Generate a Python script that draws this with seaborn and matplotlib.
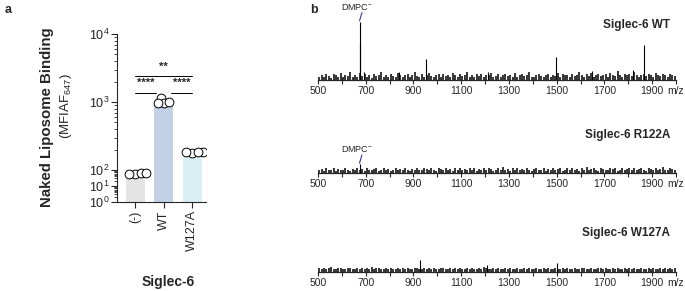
import numpy as np
import pandas as pd
import matplotlib
matplotlib.use("Agg")
import matplotlib.pyplot as plt
from matplotlib.ticker import FixedLocator, FixedFormatter
import seaborn as sns

# Panel a: liposome binding (segmented log axis)
groups = ["(-)", "WT", "W127A"]
bar_means = [42, 900, 168]
replicates = {
    "(-)": [58, 62, 64, 60],
    "WT": [1150, 960, 975, 990],
    "W127A": [180, 186, 182, 184],
}
bar_colors = ["#e4e4e4", "#bcd0ea", "#d4f2f9"]

# Panel b: ESI-MS spectra, relative intensity (WT DMPC peak = 100)
noise_mz = np.arange(505, 2000, 10)
wt_noise = [
    6, 9, 5, 11, 7, 4, 10, 8, 6, 12, 5, 9, 7, 13, 6,
    8, 5, 12, 7, 10, 6, 9, 4, 11, 7, 8, 14, 6, 9, 5,
    10, 7, 6, 12, 8, 5, 9, 11, 6, 8, 13, 7, 5, 10, 6,
    9, 12, 7, 5, 8, 11, 6, 10, 7, 9, 5, 12, 8, 6, 10,
    7, 9, 13, 6, 8, 5, 11, 7, 10, 6, 9, 8, 12, 5, 7,
    10, 6, 8, 11, 7, 9, 5, 12, 6, 8, 10, 7, 9, 13, 6,
    5, 8, 10, 7, 6, 9, 11, 5, 8, 7, 12, 6, 10, 8, 9,
    6, 11, 7, 9, 14, 8, 6, 10, 7, 12, 5, 9, 11, 7, 8,
    10, 6, 12, 8, 7, 15, 9, 6, 11, 8, 10, 7, 13, 9, 6,
    8, 11, 7, 10, 9, 6, 12, 8, 7, 10, 9, 6, 11, 8, 7,
]
r122a_noise = [
    5, 7, 4, 8, 6, 5, 9, 4, 7, 6, 5, 8, 6, 4, 7,
    6, 9, 5, 7, 4, 8, 6, 5, 7, 9, 4, 6, 8, 5, 7,
    4, 6, 8, 5, 7, 6, 9, 5, 4, 7, 6, 8, 5, 6, 9,
    7, 5, 8, 6, 4, 9, 7, 5, 8, 6, 7, 4, 9, 6, 8,
    5, 7, 6, 9, 5, 8, 4, 7, 6, 8, 5, 9, 7, 4, 6,
    8, 5, 10, 6, 7, 4, 9, 5, 8, 6, 7, 5, 9, 6, 4,
    7, 8, 5, 6, 9, 4, 7, 6, 8, 5, 7, 9, 4, 6, 8,
    5, 9, 6, 7, 4, 8, 6, 10, 5, 7, 9, 6, 4, 8, 7,
    6, 5, 9, 7, 8, 4, 6, 9, 5, 7, 8, 6, 9, 5, 7,
    8, 6, 4, 9, 7, 5, 8, 6, 7, 10, 5, 6, 8, 7, 5,
]
w127a_noise = [
    6, 4, 7, 5, 6, 8, 4, 5, 7, 6, 4, 5, 7, 6, 5,
    4, 6, 5, 7, 4, 6, 5, 8, 4, 6, 7, 5, 4, 6, 5,
    7, 4, 5, 6, 4, 7, 5, 6, 4, 5, 7, 6, 4, 5, 6,
    5, 7, 4, 6, 5, 4, 6, 7, 5, 4, 6, 5, 7, 4, 6,
    4, 5, 6, 4, 7, 5, 4, 6, 5, 8, 6, 4, 5, 7, 4,
    6, 5, 4, 6, 5, 7, 4, 5, 6, 4, 5, 7, 4, 6, 5,
    4, 6, 5, 4, 7, 5, 6, 4, 5, 6, 4, 5, 7, 4, 6,
    5, 4, 6, 5, 4, 6, 7, 4, 5, 6, 4, 5, 6, 7, 4,
    6, 5, 4, 7, 5, 6, 4, 5, 6, 4, 7, 5, 6, 4, 5,
    6, 4, 5, 7, 4, 6, 5, 4, 6, 5, 7, 4, 6, 5, 6,
]
wt_peaks_mz = [674, 677, 692, 840, 954, 1212, 1499, 1650, 1820, 1866]
wt_peaks_int = [100, 62, 14, 14, 36, 13, 40, 16, 18, 60]
r122a_peaks_mz = [674]
r122a_peaks_int = [15]
w127a_peaks_mz = [929, 1210, 1500]
w127a_peaks_int = [20, 12, 15]
dmpc_mz = 674

spectra = [
    ("Siglec-6 WT", wt_noise, wt_peaks_mz, wt_peaks_int, True),
    ("Siglec-6 R122A", r122a_noise, r122a_peaks_mz, r122a_peaks_int, True),
    ("Siglec-6 W127A", w127a_noise, w127a_peaks_mz, w127a_peaks_int, False),
]

sns.set_style("ticks")
plt.rcParams["font.family"] = ["Liberation Sans", "DejaVu Sans"]
plt.rcParams["mathtext.fontset"] = "custom"
plt.rcParams["mathtext.rm"] = "Liberation Sans"
plt.rcParams["mathtext.it"] = "Liberation Sans"

W, H = 685, 291
fig = plt.figure(figsize=(W / 100, H / 100), dpi=100)


def box(x0, y_top, x1, y_bot):
    return [x0 / W, 1 - y_bot / H, (x1 - x0) / W, (y_bot - y_top) / H]


# ---------- panel a ----------
K = 16 / 68  # lower segment (10^0-10^2) compression


def fwd(v):
    t = np.log10(np.clip(np.asarray(v, dtype=float), 1e-3, None))
    return np.where(t <= 2, t * K, 2 * K + (t - 2))


def inv(y):
    y = np.asarray(y, dtype=float)
    return np.where(y <= 2 * K, 10 ** (y / K), 10 ** (y - 2 * K + 2))


ax = fig.add_axes(box(117, 34, 206, 202))
ax.set_yscale("function", functions=(fwd, inv))

sns.barplot(x=groups, y=bar_means, hue=groups, palette=bar_colors, legend=False,
            width=0.667, ax=ax, errorbar=None, linewidth=0)
ax.set_ylim(1, 1e4)
ax.set_xlim(-0.632, 2.49)

pts = pd.DataFrame([(g, v) for g in groups for v in replicates[g]], columns=["group", "value"])
n_before = len(ax.collections)
sns.swarmplot(data=pts, x="group", y="value", order=groups, color="white",
              edgecolor="black", linewidth=0.7, size=3.4, ax=ax)
ax.set_xlim(-0.632, 2.49)
ax.set_ylim(1, 1e4)
# compute the swarm once at a small size, then freeze it and enlarge the
# circles so they overlap like the original scatter
fig.canvas.draw()
for coll in ax.collections[n_before:]:
    if "draw" in coll.__dict__:
        del coll.draw
    coll.set_sizes([6.3 ** 2])
    coll.set_zorder(5)

ax.yaxis.set_major_locator(FixedLocator([1, 10, 100, 1000, 10000]))
ax.yaxis.set_major_formatter(FixedFormatter(["$10^{0}$", "$10^{1}$", "$10^{2}$", "$10^{3}$", "$10^{4}$"]))
ax.yaxis.set_minor_locator(FixedLocator([k * 10 ** d for d in range(4) for k in range(2, 10)]))
ax.yaxis.set_minor_formatter(FixedFormatter([]))
ax.tick_params(axis="y", which="major", length=4, width=0.8, labelsize=9, pad=1.5)
ax.tick_params(axis="y", which="minor", length=2, width=0.6)
ax.tick_params(axis="x", length=4, width=0.8, labelsize=9, rotation=90, pad=2)
ax.set_xlabel("")
ax.set_ylabel("")
sns.despine(ax=ax)
for s in ["left", "bottom"]:
    ax.spines[s].set_linewidth(0.8)

# significance brackets
ax.plot([0, 2], [2410, 2410], color="black", lw=0.7)
ax.plot([0, 0.74], [1355, 1355], color="black", lw=0.7)
ax.plot([1.26, 2], [1355, 1355], color="black", lw=0.7)
ax.text(1, 3300, "**", ha="center", va="center", fontsize=8, fontweight="bold")
ax.text(0.37, 1900, "****", ha="center", va="center", fontsize=8, fontweight="bold")
ax.text(1.63, 1900, "****", ha="center", va="center", fontsize=8, fontweight="bold")

fig.text(47 / W, 1 - 117.5 / H, "Naked Liposome Binding", rotation=90, ha="center",
         va="center", fontsize=10.8, fontweight="bold")
fig.text(66 / W, 1 - 106 / H, "(MFIAF$_{647}$)", rotation=90, ha="center",
         va="center", fontsize=9.5)
fig.text(168 / W, 1 - 282 / H, "Siglec-6", ha="center", va="center", fontsize=10,
         fontweight="bold")
fig.text(5 / W, 1 - 10 / H, "a", ha="left", va="center", fontsize=9, fontweight="bold")
fig.text(310 / W, 1 - 10 / H, "b", ha="left", va="center", fontsize=9, fontweight="bold")

# ---------- panel b ----------
axis_y = [80, 173, 271.7]
title_y = [25, 135, 233]
px_per_unit = 58 / 100
for (title, noise, pk_mz, pk_int, dmpc), y0, ty in zip(spectra, axis_y, title_y):
    sax = fig.add_axes(box(318, y0 - 105 * px_per_unit, 676, y0))
    sax.vlines(noise_mz, 0, noise, color="black", lw=1.1)
    sax.vlines(pk_mz, 0, pk_int, color="black", lw=0.8)
    sax.set_xlim(500, 2000)
    sax.set_ylim(0, 105)
    sax.set_yticks([])
    sax.set_xticks(np.arange(500, 2001, 100))
    sax.set_xticklabels([str(v) if (v - 500) % 200 == 0 and v < 2000 else ("m/z" if v == 2000 else "")
                         for v in range(500, 2001, 100)])
    sax.tick_params(axis="x", length=3, width=0.8, labelsize=7.5, pad=1.5)
    for s in ["left", "top", "right"]:
        sax.spines[s].set_visible(False)
    sax.spines["bottom"].set_linewidth(0.9)
    sax.patch.set_alpha(0)
    fig.text(670 / W, 1 - ty / H, title, ha="right", va="center", fontsize=8.5,
             fontweight="bold")
    if dmpc:
        top = pk_int[0]
        sax.annotate("", xy=(dmpc_mz, top + 2), xytext=(dmpc_mz + 10, top + 16),
                     arrowprops=dict(arrowstyle="-", color="#3535a5", lw=0.8,
                                     shrinkA=0, shrinkB=0), annotation_clip=False)
        sax.text(dmpc_mz - 12, top + 18, "DMPC$^{-}$", ha="center", va="bottom",
                 fontsize=6.5, clip_on=False)

fig.savefig("out.png", dpi=100)
